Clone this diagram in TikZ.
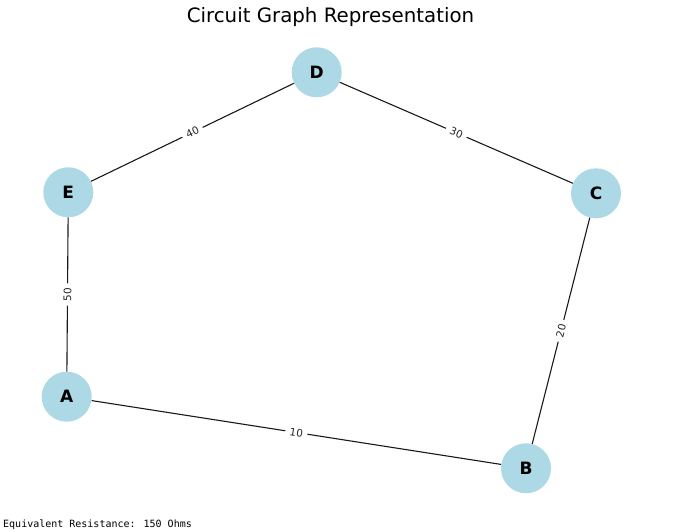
\documentclass[tikz,border=0pt]{standalone}
\usepackage{fontspec}
\setmainfont{DejaVu Sans}
\newfontfamily\monofnt{DejaVu Sans Mono}
\definecolor{nodeblue}{HTML}{ADD8E6}
\begin{document}
\begin{tikzpicture}[x=1pt,y=-1pt,
  vtx/.style={circle,fill=nodeblue,draw=none,minimum size=50pt,inner sep=0pt,font=\fontsize{17}{17}\selectfont\bfseries},
  edge/.style={draw=black!90,line width=1.1pt},
  wlab/.style={midway,sloped,fill=white,inner xsep=4.5pt,inner ysep=1pt,font=\fontsize{10.4}{10.4}\selectfont,text=black!85}]
\useasboundingbox (0,0) rectangle (686,532);
\node[font=\fontsize{19.8}{20}\selectfont] (title) at (330.5,17) {Circuit Graph Representation};
\node[vtx] (A) at (66.7,396.7) {A};
\node[vtx] (B) at (526,468.3) {B};
\node[vtx] (C) at (596,193.3) {C};
\node[vtx] (D) at (316.7,72.3) {D};
\node[vtx] (E) at (68.3,192.3) {E};
\draw[edge] (A) -- node[wlab] {10} (B);
\draw[edge] (B) -- node[wlab] {20} (C);
\draw[edge] (D) -- node[wlab] {30} (C);
\draw[edge] (E) -- node[wlab] {40} (D);
\draw[edge] (A) -- node[wlab] {50} (E);
\node[anchor=west,font=\monofnt\fontsize{10}{10}\selectfont,inner sep=0pt] (eq) at (3,524.3) {Equivalent Resistance: 150 Ohms};
\end{tikzpicture}
\end{document}
